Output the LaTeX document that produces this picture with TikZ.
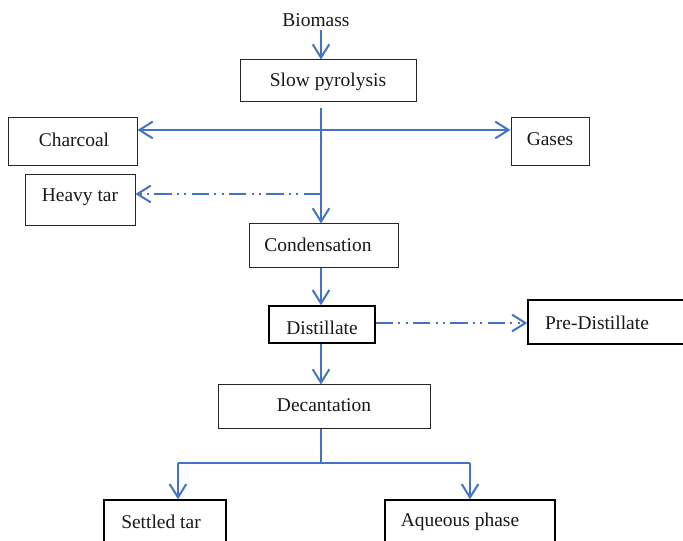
\documentclass[tikz,border=0pt]{standalone}
\usepackage{fontspec}
\setmainfont{Liberation Serif}
\usetikzlibrary{arrows.meta,fit}
\definecolor{flowblue}{RGB}{68,114,196}
\tikzset{
  box/.style={draw=black!85, line width=0.75pt, inner sep=0pt, fit={#1}},
  boxb/.style={box={#1}, line width=1.1pt, draw=black},
  lbl/.style={inner sep=0pt, font=\fontsize{14.6}{17}\selectfont, text=black!90},
  flow/.style={draw=flowblue, line width=1.5pt},
  barb/.tip={Straight Barb[length=10pt,width=12.5pt,line width=1.5pt]},
  arr/.style={flow, -barb},
  dashdotdot/.style={dash pattern=on 13pt off 4pt on 1.5pt off 4pt on 1.5pt off 4pt}
}
\begin{document}
\begin{tikzpicture}[x=0.75pt,y=-0.75pt]
\clip (0,0) rectangle (683,541);
\fill[white] (0,0) rectangle (683,541);
% boxes
\node[box={(240,60) (416,102)}] (pyro) {};
\node[box={(8,118) (137,166)}] (charcoal) {};
\node[box={(511,118) (589,166)}] (gases) {};
\node[box={(25,175) (135,226)}] (heavy) {};
\node[box={(249,224) (398,268)}] (cond) {};
\node[boxb={(269,306) (375,343)}] (dist) {};
\node[boxb={(528,300) (700,344)}] (predist) {};
\node[box={(218,385) (430,429)}] (decant) {};
\node[boxb={(104,500) (226,560)}] (settled) {};
\node[boxb={(385,500) (555,560)}] (aqueous) {};
% texts
\node[lbl] (tbio) at (316,20) {Biomass};
\node[lbl] (tpyro) at (328,82) {Slow pyrolysis};
\node[lbl] (tchar) at (74,140) {Charcoal};
\node[lbl] (tgas) at (550,139) {Gases};
\node[lbl] (theavy) at (80,197) {Heavy tar};
\node[lbl] (tcond) at (318,245) {Condensation};
\node[lbl] (tdist) at (322,328) {Distillate};
\node[lbl] (tpre) at (597,323) {Pre-Distillate};
\node[lbl] (tdec) at (324,405) {Decantation};
\node[lbl] (tset) at (161,522) {Settled tar};
\node[lbl] (taq) at (460,522) {Aqueous phase};
% helper coordinates
\coordinate (sx) at (321,0);
\coordinate (hy) at (0,130);
\coordinate (ty) at (0,194);
\coordinate (dy) at (0,323);
\coordinate (sy) at (0,108);
\coordinate (by) at (0,30);
\coordinate (ly) at (0,463);
\coordinate (lx) at (178,0);
\coordinate (rx) at (470,0);
% connectors
\draw[arr] (sx |- by) -- (sx |- pyro.north);
\draw[arr] (sx |- sy) -- (sx |- cond.north);
\draw[flow, barb-barb] (charcoal.east |- hy) -- (gases.west |- hy);
\draw[arr, dashdotdot] (sx |- ty) -- (heavy.east |- ty);
\draw[arr] (sx |- cond.south) -- (sx |- dist.north);
\draw[arr, dashdotdot] (dist.east |- dy) -- (predist.west |- dy);
\draw[arr] (sx |- dist.south) -- (sx |- decant.north);
\draw[flow, line width=1.1pt] (sx |- decant.south) -- (sx |- ly);
\draw[flow, line width=1.1pt] (lx |- ly) -- (rx |- ly);
\draw[arr] (lx |- ly) -- (lx |- settled.north);
\draw[arr] (rx |- ly) -- (rx |- aqueous.north);
\end{tikzpicture}
\end{document}
